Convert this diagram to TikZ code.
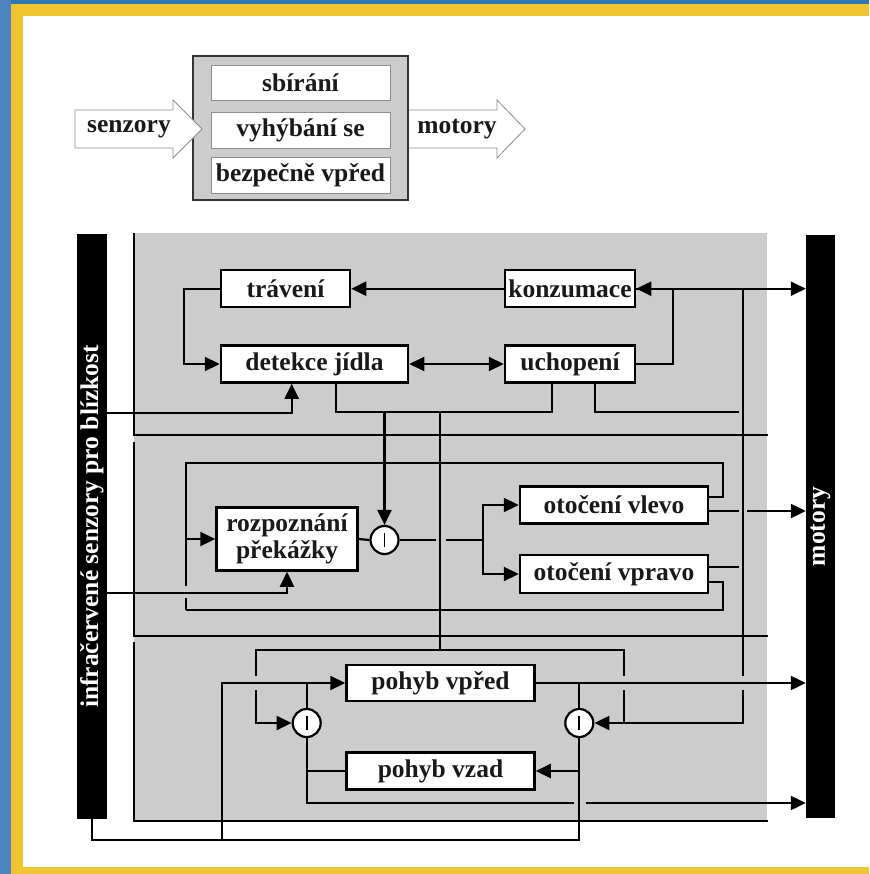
\documentclass[tikz,border=0pt]{standalone}
\usepackage{fontspec}
\setmainfont{Liberation Serif}
\usetikzlibrary{arrows.meta}
\definecolor{frameblue}{HTML}{4F82C0}
\definecolor{topblue}{HTML}{2F76B3}
\definecolor{frameyellow}{HTML}{EEC530}
\definecolor{panel}{HTML}{CCCCCC}
\newcommand\diaglabel{\fontsize{25.5}{27}\selectfont\bfseries}
\begin{document}
\begin{tikzpicture}[x=1pt,y=-1pt,
  box/.style={draw=black, line width=2.5pt, fill=white, inner sep=0pt, align=center,
              font=\diaglabel, text=black!90},
  layer/.style={draw=black!45, line width=0.8pt, fill=white, inner sep=0pt,
              minimum width=179, font=\diaglabel, text=black!90},
  bar/.style={fill=black, inner sep=0pt},
  barlabel/.style={rotate=90, text=white, font=\diaglabel},
  wire/.style={line width=2.2pt},
  arr/.style={wire, -{Triangle[length=15pt,width=14pt]}},
  darr/.style={wire, {Triangle[length=15pt,width=14pt]}-{Triangle[length=15pt,width=14pt]}},
  inhib/.style={circle, draw=black, fill=white, line width=2.2pt, minimum size=28, inner sep=0pt,
              path picture={\draw[line width=1.8pt]
                ([yshift=-7pt]path picture bounding box.center) --
                ([yshift=7pt]path picture bounding box.center);}}]
\useasboundingbox (0,0) rectangle (869,874);

% page frame
\fill[frameblue] (0,0) rectangle (11,874);
\fill[topblue] (11,0) rectangle (869,4);
\fill[frameyellow] (11,4) rectangle (869,16);
\fill[frameyellow] (11,4) rectangle (23,874);
\fill[frameyellow] (11,867) rectangle (869,874);

% layered behaviour overview
\node[draw=black!80, line width=2.8pt, fill=panel, minimum width=215, minimum height=144, inner sep=0pt]
  (layers) at (300.5,128) {};
\node[layer, minimum height=35] (sbir) at (300.5,82.5) {sbírání};
\node[layer, minimum height=36] (vyhyb) at (300.5,130) {vyhýbání se};
\node[layer, minimum height=36] (bezp) at (300.5,175) {bezpečně vpřed};
\draw[draw=black!45, line width=0.8pt, fill=white]
  (75,110) -- (173,110) -- (173,100) -- (202,129) -- (173,158) -- (173,148) -- (75,148) -- cycle;
\draw[draw=black!45, line width=0.8pt, fill=white]
  (409,110) -- (497,110) -- (497,100) -- (525,129) -- (497,158) -- (497,148) -- (409,148);
\node[font=\diaglabel, text=black!90] (senz) at (129,129) {senzory};
\node[font=\diaglabel, text=black!90] (mot) at (457,129) {motory};

% grey panel with three layers
\fill[panel] (134,233) rectangle (767,821);
\draw[wire] (134,233) -- (134,435) -- (768,435);
\draw[wire] (134,442) -- (134,636) -- (768,636);
\draw[wire] (134,642) -- (134,821) -- (768,821);

% sensor and motor bars
\node[bar, minimum width=30, minimum height=585] (ir) at (92,526.5) {};
\node[barlabel] (irlab) at (ir.center) {infračervené senzory pro blízkost};
\node[bar, minimum width=29, minimum height=583] (motbar) at (820.5,526.5) {};
\node[barlabel] (motlab) at (motbar.center) {motory};

% behaviour modules
\node[box, minimum width=129, minimum height=37] (trav) at (285.5,288.7) {trávení};
\node[box, minimum width=187, minimum height=37] (det) at (314.5,364) {detekce jídla};
\node[box, minimum width=130, minimum height=37] (konz) at (570,288.7) {konzumace};
\node[box, minimum width=130, minimum height=37] (uch) at (570,364) {uchopení};
\node[box, minimum width=141, minimum height=63] (rozp) at (287,539) {rozpoznání\\překážky};
\node[inhib] (circA) at (384.5,540) {};
\node[box, minimum width=188, minimum height=37] (vlevo) at (614,505) {otočení vlevo};
\node[box, minimum width=188, minimum height=38] (vpravo) at (614,574) {otočení vpravo};
\node[box, minimum width=188, minimum height=36] (vpred) at (440.5,683) {pohyb vpřed};
\node[box, minimum width=188, minimum height=37] (vzad) at (440.5,771) {pohyb vzad};
\node[inhib] (circL) at (306.7,723) {};
\node[inhib] (circR) at (579.3,723) {};

% junction points
\coordinate (jdl) at (336,412);
\coordinate (jup) at (552,412);
\coordinate (ju2) at (595,412);
\coordinate (bus) at (743,288.7);
\coordinate (split) at (483,540);
\coordinate (fb) at (186,540);
\coordinate (ir1) at (107,412.7);
\coordinate (ir2) at (107,592.7);
\coordinate (irb) at (92,840);

% feeding layer
\draw[arr] (konz.west) -- (trav.east);
\draw[arr] (trav.west) -- ++(-36,0) |- (det.west);
\draw[darr] (det.east) -- (uch.west);
\draw[arr] (uch.east) -- ++(37,0) |- (konz.east);
\draw[arr] (konz.east) -- (konz.east -| motbar.west);
\draw[wire] (det.south -| jdl) -- (jdl) -- (jup) -- (uch.south -| jup);
\draw[wire] (uch.south -| ju2) -- (ju2) -- (739,412);
\draw[arr] (ir1) -| ([xshift=-22.8pt]det.south);
\draw[arr] (circA.north |- jdl) -- (circA.north);
\draw[wire] (440,412) -- (440,650);
\draw[wire] (bus) -- (743,676);

% avoidance layer
\draw[wire] (rozp.east) -- (circA.west);
\draw[wire] (circA.east) -- (436,540);
\draw[wire] (446,540) -- (split);
\draw[arr] (split) |- (vlevo.west);
\draw[arr] (split) |- (vpravo.west);
\draw[wire] ([yshift=8.3pt]vlevo.east) -- ++(13.4,0) |- (186,463.3) -- (186,586);
\draw[wire] (186,598) -- (186,610);
\draw[wire] ([yshift=-7.7pt]vpravo.east) -- ++(13.4,0) |- (186,610);
\draw[arr] (fb) -- (rozp.west -| fb) -- (rozp.west);
\draw[wire] ([yshift=-6pt]vlevo.east) -- (739,511);
\draw[arr] (747,511) -- (motbar.west |- 747,511);
\draw[wire] ([yshift=7.3pt]vpravo.east) -- (739,566.7);
\draw[arr] (ir2) -| (rozp.south);

% safe-forward layer
\draw[wire] (256,676) |- (624,650) -- (624,676);
\draw[arr] (256,690) |- (circL.west);
\draw[wire] (624,690) -- (624,723);
\draw[arr] (743,690) |- (circR.east);
\draw[wire] (ir.south) -- (irb) -| (circR.south);
\draw[arr] (221.7,840) |- (vpred.west);
\draw[wire] (circL.north) -- (circL.north |- vpred.west);
\draw[wire] (circL.south) |- (574,803);
\draw[arr] (585.7,803) -- (motbar.west |- 585.7,803);
\draw[wire] (circL.south |- vzad.west) -- (vzad.west);
\draw[arr] (vpred.east) -- (motbar.west |- vpred.east);
\draw[wire] (circR.north |- vpred.east) -- (circR.north);
\draw[arr] (circR.south |- vzad.east) -- (vzad.east);
\end{tikzpicture}
\end{document}
